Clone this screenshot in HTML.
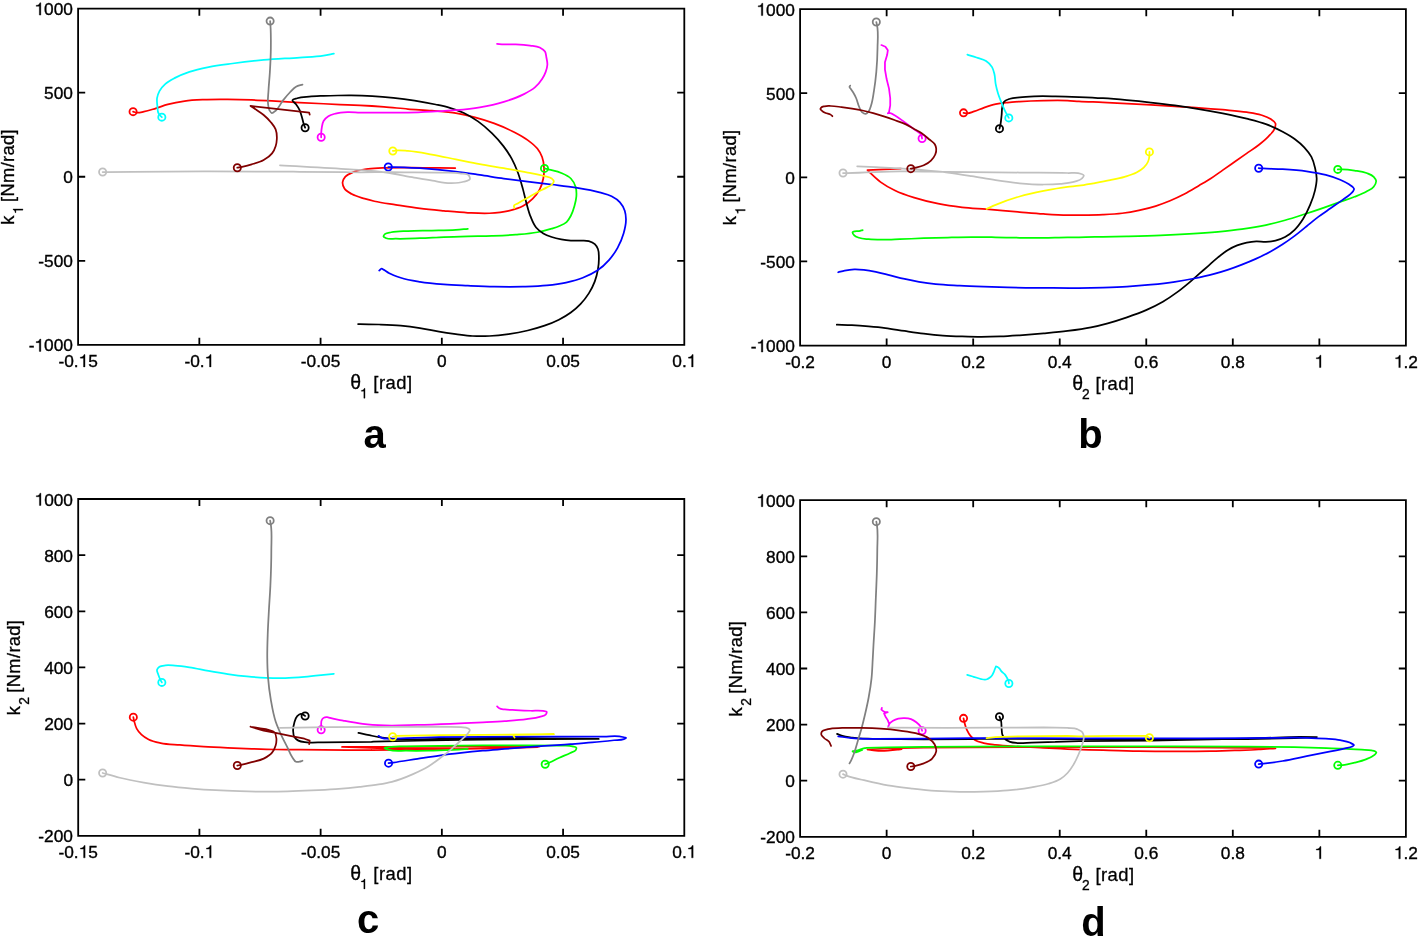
<!DOCTYPE html>
<html><head><meta charset="utf-8"><title>Figure</title>
<style>
html,body{margin:0;padding:0;background:#fff;}
body{width:1419px;height:945px;overflow:hidden;font-family:"Liberation Sans",sans-serif;}
svg{display:block;will-change:transform;}
</style></head><body>
<svg width="1419" height="945" viewBox="0 0 1419 945">
<rect width="1419" height="945" fill="#fff"/>
<g id="panel-a">
<g fill="none" stroke-width="1.75" stroke-linecap="round" stroke-linejoin="round">
<path stroke="#ff0000" d="M133.08 111.66 C134.28 111.98 135.47 112.46 136.67 112.61 C139.03 112.92 141.49 112.1 143.86 111.66 C147.93 110.9 151.87 109.49 155.84 108.3 C159.86 107.1 163.78 105.55 167.82 104.47 C173.32 102.99 178.96 101.91 184.59 101.11 C190.93 100.22 197.37 99.97 203.76 99.68 C211.74 99.31 219.74 99.4 227.72 99.44 C235.71 99.48 243.7 99.64 251.68 99.92 C259.68 100.19 267.66 100.67 275.64 101.11 C283.63 101.55 291.62 102.11 299.61 102.55 C307.59 102.99 315.58 103.35 323.57 103.75 C331.55 104.15 339.54 104.61 347.53 104.95 C351.68 105.12 355.84 105.24 360 105.43 C367.99 105.79 375.98 106.27 383.96 106.86 C391.96 107.46 399.93 108.38 407.92 109.02 C415.9 109.66 423.9 110.02 431.88 110.7 C439.88 111.38 447.94 111.76 455.84 113.09 C462.29 114.18 468.69 115.71 475.01 117.41 C481.47 119.14 487.92 121.06 494.18 123.4 C500.7 125.83 507.16 128.59 513.35 131.78 C518.27 134.33 523.28 136.89 527.72 140.17 C531.12 142.68 534.73 145.25 537.31 148.56 C539.26 151.06 540.99 153.97 542.1 156.94 C543.36 160.31 543.82 164.11 544.02 167.72 C544.21 171.29 543.98 175 543.3 178.51 C542.59 182.2 541.43 185.97 539.7 189.29 C537.89 192.79 535.31 196.08 532.52 198.87 C529.72 201.67 526.39 204.16 522.93 206.06 C518.56 208.46 513.44 209.68 508.56 210.85 C502.32 212.34 495.8 212.9 489.39 213.25 C482.23 213.64 475 213.12 467.82 212.77 C459.82 212.37 451.84 211.57 443.86 210.85 C435.87 210.13 427.86 209.45 419.9 208.46 C411.89 207.46 403.92 206.13 395.94 204.86 C388.74 203.72 381.46 202.94 374.38 201.27 C371.09 200.49 367.82 199.62 364.59 198.63 C360.26 197.3 355.66 196.29 351.77 194.05 C349.15 192.54 345.95 191.03 344.44 188.56 C343.34 186.76 342.38 184.2 342.61 182.14 C342.81 180.24 344.09 178.15 345.36 176.65 C347.29 174.34 350.73 173.25 353.6 172.06 C358.17 170.17 363.33 169.66 368.26 168.95 C374.3 168.09 380.47 168.09 386.58 167.85 C398.78 167.36 411.01 167.81 423.23 167.85 C433.92 167.88 444.6 167.97 455.29 168.03"/>
<circle stroke="#ff0000" cx="133.08" cy="111.66" r="3.6" stroke-width="1.8"/>
<path stroke="#00ff00" d="M544.5 168.44 C546.09 168.84 547.69 169.23 549.29 169.64 C553.3 170.68 557.49 171.37 561.27 173 C564.63 174.44 568.39 175.94 570.85 178.51 C573.01 180.75 574.73 183.89 575.64 186.89 C576.56 189.88 576.56 193.31 576.36 196.48 C576.16 199.64 575.31 202.82 574.45 205.89 C573.51 209.24 572.47 212.65 570.85 215.72 C569.65 217.99 568.38 220.47 566.54 222.18 C564.49 224.1 561.53 225.14 558.87 226.26 C556.55 227.24 554.1 227.92 551.68 228.65 C546.96 230.09 542.15 231.31 537.31 232.25 C530.22 233.61 522.95 234.05 515.74 234.64 C507.78 235.3 499.77 235.56 491.78 235.84 C483.8 236.12 475.81 236.12 467.82 236.32 C459.83 236.52 451.85 236.72 443.86 237.04 C435.87 237.36 427.89 237.96 419.9 238.24 C411.92 238.52 403.92 238.96 395.94 238.72 C392.75 238.62 389.16 239.59 386.36 238.24 C385.35 237.75 383.56 237.13 383.48 236.32 C383.41 235.64 384.48 234.55 385.16 233.93 C386.61 232.59 389.13 232.7 391.15 232.25 C396.6 231.04 402.32 231.33 407.92 231.05 C415.9 230.65 423.9 230.77 431.88 230.57 C439.87 230.37 447.87 230.36 455.84 229.85 C459.84 229.6 463.83 229.21 467.82 228.89"/>
<circle stroke="#00ff00" cx="544.5" cy="168.44" r="3.6" stroke-width="1.8"/>
<path stroke="#000000" d="M305.12 127.71 C304.72 126.67 304.28 125.64 303.92 124.59 C303.11 122.26 302.71 119.78 302 117.41 C301.28 114.99 300.66 112.49 299.61 110.22 C298.63 108.12 297.4 106.08 296.01 104.23 C294.93 102.79 292.14 101.16 292.42 100.16 C292.68 99.2 295.58 98.76 297.21 98.24 C301.03 97.02 305.18 96.96 309.19 96.56 C313.96 96.09 318.77 96.02 323.57 95.84 C328.34 95.67 333.12 95.57 337.9 95.5 C342.3 95.43 346.7 95.36 351.1 95.4 C358.17 95.46 365.24 95.68 372.3 96.1 C379.34 96.52 386.38 97.14 393.4 97.9 C400.48 98.67 407.56 99.6 414.6 100.7 C421.66 101.8 428.71 103.02 435.7 104.5 C440.42 105.5 445.18 106.42 449.8 107.8 C454.59 109.23 459.39 110.87 463.9 113 C468.83 115.33 473.55 118.25 478 121.4 C483.02 124.95 487.71 129.08 492.1 133.4 C496.13 137.36 499.97 141.61 503.4 146.1 C506.47 150.12 509.38 154.36 511.8 158.8 C514.02 162.86 515.83 167.18 517.5 171.5 C519.71 177.22 521.3 183.2 522.93 189.12 C524.24 193.88 525.19 198.74 526.53 203.5 C527.77 207.92 528.85 212.44 530.6 216.67 C532.13 220.39 533.56 224.43 536.11 227.46 C538.08 229.79 540.66 231.84 543.3 233.45 C545.87 235.01 548.81 236.06 551.68 237.04 C554.79 238.1 558.04 238.83 561.27 239.44 C564.43 240.02 567.65 240.44 570.85 240.63 C574.04 240.83 577.24 240.54 580.44 240.63 C583.23 240.72 586.2 240.33 588.82 241.11 C590.93 241.75 593.23 242.73 594.81 244.23 C596.15 245.5 597.22 247.3 597.93 249.02 C598.97 251.56 598.79 254.61 598.89 257.41 C599.02 261.39 598.59 265.45 597.93 269.39 C597.25 273.44 596.24 277.52 594.81 281.37 C593.27 285.53 591.19 289.59 588.82 293.35 C586.41 297.18 583.56 300.84 580.44 304.13 C577.53 307.19 574.26 310.01 570.85 312.52 C567.11 315.26 563.01 317.59 558.87 319.7 C554.26 322.06 549.38 323.97 544.5 325.69 C539.02 327.63 533.37 329.14 527.72 330.49 C521.41 331.99 514.98 333.16 508.56 334.08 C502.2 334.99 495.79 335.7 489.39 336 C483.81 336.26 478.19 336.31 472.61 336 C467.01 335.68 461.42 334.8 455.84 334.08 C450.24 333.36 444.64 332.6 439.07 331.68 C432.66 330.64 426.32 329.09 419.9 328.09 C413.54 327.1 407.14 326.28 400.73 325.69 C393.57 325.03 386.36 324.78 379.17 324.5 C372.78 324.24 366.39 324.03 360 324.02 C359.36 324.02 358.72 324.02 358.08 324.02"/>
<circle stroke="#000000" cx="305.12" cy="127.71" r="3.6" stroke-width="1.8"/>
<path stroke="#0000ff" d="M388.27 167 C389.63 167 390.99 167 392.35 167 C401.54 167.06 410.73 167.61 419.9 168.2 C431.9 168.98 443.9 170.11 455.84 171.56 C463.85 172.53 471.82 173.75 479.8 174.91 C487.8 176.07 495.77 177.39 503.76 178.51 C511.74 179.62 519.73 180.62 527.72 181.62 C535.71 182.62 543.7 183.5 551.68 184.5 C559.68 185.5 567.7 186.3 575.64 187.61 C583.68 188.93 591.78 190.19 599.61 192.4 C603.64 193.54 607.91 194.38 611.59 196.31 C614.59 197.88 617.74 199.79 619.97 202.3 C622.06 204.65 623.77 207.68 624.76 210.68 C625.63 213.32 625.88 216.28 625.96 219.07 C626.1 223.87 624.88 228.8 623.57 233.45 C622.16 238.41 620.08 243.31 617.58 247.82 C615.23 252.06 612.38 256.16 609.19 259.8 C605.67 263.82 601.61 267.59 597.21 270.58 C592.82 273.57 587.8 275.82 582.83 277.77 C577.45 279.89 571.73 281.32 566.06 282.57 C559.76 283.95 553.31 284.77 546.89 285.44 C538.95 286.28 530.92 286.42 522.93 286.64 C513.35 286.9 503.76 286.82 494.18 286.64 C485.39 286.47 476.61 286.06 467.82 285.68 C459.83 285.33 451.83 285.12 443.86 284.48 C435.86 283.84 427.82 283.16 419.9 281.85 C413.47 280.78 406.93 279.77 400.73 277.77 C396.65 276.45 392.48 275.1 388.75 272.98 C387.1 272.04 385.63 270.78 383.96 269.87 C383.18 269.44 382.32 268.62 381.56 268.67 C380.7 268.72 379.97 269.95 379.17 270.58"/>
<circle stroke="#0000ff" cx="388.27" cy="167" r="3.6" stroke-width="1.8"/>
<path stroke="#00ffff" d="M161.83 117.17 C160.79 116.05 159.48 115.07 158.72 113.81 C157.29 111.48 157.55 108.24 157.28 105.43 C157.05 103.05 156.71 100.57 157.04 98.24 C157.39 95.78 158.27 93.24 159.44 91.05 C160.87 88.34 163.14 85.92 165.43 83.86 C168.19 81.37 171.7 79.64 175.01 77.87 C179.58 75.44 184.49 73.55 189.39 71.88 C195.6 69.76 202.11 68.41 208.56 67.09 C216.46 65.47 224.51 64.57 232.52 63.5 C242.87 62.1 253.26 60.87 263.66 59.9 C275.62 58.79 287.63 58.4 299.61 57.51 C307.6 56.91 315.66 56.8 323.57 55.59 C327.01 55.06 330.43 54.31 333.87 53.67"/>
<circle stroke="#00ffff" cx="161.83" cy="117.17" r="3.6" stroke-width="1.8"/>
<path stroke="#ff00ff" d="M321.17 137.29 C321.17 136.1 321.13 134.9 321.17 133.7 C321.25 131.46 321.46 129.19 321.89 126.99 C322.29 124.96 322.57 122.74 323.57 121 C324.65 119.1 326.51 117.42 328.36 116.21 C330.44 114.84 333.1 114.23 335.55 113.57 C339.41 112.54 343.52 112.3 347.53 112.14 C351.67 111.96 355.84 112.51 360 112.61 C367.98 112.82 375.97 112.61 383.96 112.61 C391.95 112.61 399.94 112.77 407.92 112.61 C415.91 112.45 423.9 112.06 431.88 111.66 C439.87 111.26 447.88 110.93 455.84 110.22 C463.85 109.5 471.89 108.72 479.8 107.34 C487.87 105.94 495.95 104.24 503.76 101.83 C510.27 99.83 516.86 97.7 522.93 94.64 C527.07 92.56 531.46 90.49 534.91 87.46 C537.64 85.06 540.14 82.15 542.1 79.07 C543.53 76.83 544.8 74.39 545.69 71.88 C546.51 69.58 547.26 67.11 547.37 64.69 C547.48 62.32 546.86 59.88 546.41 57.51 C546.03 55.49 546 53.16 544.98 51.52 C543.86 49.74 541.63 48.43 539.7 47.44 C536.88 46 533.34 46.02 530.12 45.53 C525.37 44.8 520.54 44.51 515.74 44.33 C511.76 44.18 507.75 44.51 503.76 44.33 C501.52 44.22 499.29 44.01 497.05 43.85"/>
<circle stroke="#ff00ff" cx="321.17" cy="137.29" r="3.6" stroke-width="1.8"/>
<path stroke="#ffff00" d="M392.83 150.95 C394.02 150.79 395.22 150.58 396.42 150.47 C400.23 150.12 404.1 150.66 407.92 150.95 C415.96 151.57 423.93 153.16 431.88 154.55 C439.9 155.95 447.86 157.74 455.84 159.34 C463.83 160.93 471.79 162.65 479.8 164.13 C487.77 165.6 495.78 166.81 503.76 168.2 C511.76 169.6 519.77 170.92 527.72 172.52 C533.33 173.64 539.02 174.49 544.5 176.11 C546.91 176.83 549.84 176.91 551.68 178.51 C552.51 179.22 553.74 180.2 553.84 181.14 C553.95 182.12 552.89 183.38 552.16 184.26 C550.91 185.78 548.67 186.38 546.89 187.37 C543.77 189.11 540.45 190.48 537.31 192.16 C534.06 193.9 530.92 195.84 527.72 197.67 C524.53 199.51 521.25 201.21 518.14 203.19 C516.68 204.11 513.8 204.63 513.83 206.06 C513.84 206.63 514.31 207.34 514.55 207.98"/>
<circle stroke="#ffff00" cx="392.83" cy="150.95" r="3.6" stroke-width="1.8"/>
<path stroke="#808080" d="M270.13 21.09 C270.21 22.04 270.3 23 270.37 23.96 C270.98 31.92 270.93 39.94 270.85 47.92 C270.77 55.91 270.37 63.9 269.89 71.88 C269.51 78.28 268.8 84.65 268.46 91.05 C268.24 95.04 267.55 99.08 267.98 103.03 C268.24 105.44 268.22 108.17 269.42 110.22 C270.03 111.27 270.9 112.87 271.81 113.09 C272.92 113.37 274.47 111.61 275.64 110.7 C278.85 108.2 280.29 103.87 282.83 100.63 C285.11 97.74 287.44 94.87 290.02 92.25 C291.92 90.32 293.7 88.04 296.01 86.74 C297.95 85.64 300.32 85.3 302.48 84.58"/>
<circle stroke="#808080" cx="270.13" cy="21.09" r="3.6" stroke-width="1.8"/>
<path stroke="#c0c0c0" d="M102.65 172.04 C104.01 172.04 105.37 172.04 106.72 172.04 C139.07 172.03 171.42 171.36 203.76 171.32 C235.71 171.28 267.66 171.55 299.61 171.8 C316.38 171.92 333.16 172.17 349.94 172.25 C368.26 172.33 386.58 172.14 404.9 172.25 C417.12 172.32 429.34 172.25 441.55 172.61 C447.66 172.8 453.89 172.25 459.87 173.35 C462.96 173.91 467.59 173.27 469.03 175.73 C469.53 176.57 470.05 177.99 469.95 178.84 C469.73 180.7 465.75 181.06 463.54 181.78 C459.5 183.08 454.98 183.03 450.71 183.06 C444.59 183.09 438.48 181.59 432.39 180.68 C426.26 179.76 420.17 178.62 414.07 177.56 C404.9 175.97 395.79 173.91 386.58 172.61 C374.45 170.9 362.16 170.28 349.94 169.32 C326.64 167.48 303.27 166.63 279.94 165.29"/>
<circle stroke="#c0c0c0" cx="102.65" cy="172.04" r="3.6" stroke-width="1.8"/>
<path stroke="#800000" d="M237.31 167.72 C238.91 167.4 240.51 167.11 242.1 166.77 C245.32 166.07 248.53 165.31 251.68 164.37 C255.75 163.16 260.04 162.15 263.66 160.06 C266.72 158.29 269.94 156.14 272.05 153.35 C273.63 151.26 274.84 148.68 275.64 146.16 C276.37 143.87 276.74 141.37 276.84 138.97 C276.97 135.79 276.78 132.31 275.64 129.39 C274.63 126.77 272.65 124.43 270.85 122.2 C268.74 119.57 266.24 117.2 263.66 115.01 C260.7 112.5 257.31 110.48 254.08 108.3 C252.89 107.5 251.68 106.7 250.49 105.91 M250.49 105.91 L309.19 112.61 L309.67 114.53"/>
<circle stroke="#800000" cx="237.31" cy="167.72" r="3.6" stroke-width="1.8"/>
</g>
<path d="M78.1 8.6 H684.3 V344.9 H78.1 Z M199.34 344.9 v-7.1 M199.34 8.6 v7.1 M320.58 344.9 v-7.1 M320.58 8.6 v7.1 M441.82 344.9 v-7.1 M441.82 8.6 v7.1 M563.06 344.9 v-7.1 M563.06 8.6 v7.1 M78.1 92.67 h7.1 M684.3 92.67 h-7.1 M78.1 176.75 h7.1 M684.3 176.75 h-7.1 M78.1 260.82 h7.1 M684.3 260.82 h-7.1" fill="none" stroke="#000" stroke-width="1.8" stroke-linejoin="miter"/>
<g stroke="#000" stroke-width="0.35">
<text x="58.38" y="366.9" font-size="17.3" font-family="'Liberation Sans', sans-serif">-0.</text><path d="M85.01 366.9L83.49 366.9L83.49 358.16L80.34 358.16L80.34 357.11C81.86 357 83.62 356.69 84.04 354.58L85.01 354.58Z"/><text x="88.19" y="366.9" font-size="17.3" font-family="'Liberation Sans', sans-serif">5</text>
<text x="184.43" y="366.9" font-size="17.3" font-family="'Liberation Sans', sans-serif">-0.</text><path d="M211.06 366.9L209.54 366.9L209.54 358.16L206.39 358.16L206.39 357.11C207.91 357 209.68 356.69 210.09 354.58L211.06 354.58Z"/>
<text x="300.86" y="366.9" font-size="17.3" font-family="'Liberation Sans', sans-serif">-0.05</text>
<text x="437.01" y="366.9" font-size="17.3" font-family="'Liberation Sans', sans-serif">0</text>
<text x="546.22" y="366.9" font-size="17.3" font-family="'Liberation Sans', sans-serif">0.05</text>
<text x="672.27" y="366.9" font-size="17.3" font-family="'Liberation Sans', sans-serif">0.</text><path d="M693.14 366.9L691.62 366.9L691.62 358.16L688.47 358.16L688.47 357.11C689.99 357 691.75 356.69 692.17 354.58L693.14 354.58Z"/>
<path d="M40.85 15.1L39.32 15.1L39.32 6.36L36.18 6.36L36.18 5.31C37.7 5.2 39.46 4.89 39.88 2.78L40.85 2.78Z"/><text x="44.03" y="15.1" font-size="17.3" font-family="'Liberation Sans', sans-serif">000</text>
<text x="44.03" y="99.17" font-size="17.3" font-family="'Liberation Sans', sans-serif">500</text>
<text x="63.28" y="183.25" font-size="17.3" font-family="'Liberation Sans', sans-serif">0</text>
<text x="38.27" y="267.32" font-size="17.3" font-family="'Liberation Sans', sans-serif">-500</text>
<text x="28.65" y="351.4" font-size="17.3" font-family="'Liberation Sans', sans-serif">-</text><path d="M40.85 351.4L39.32 351.4L39.32 342.66L36.18 342.66L36.18 341.61C37.7 341.5 39.46 341.19 39.88 339.08L40.85 339.08Z"/><text x="44.03" y="351.4" font-size="17.3" font-family="'Liberation Sans', sans-serif">000</text>
</g>
<g stroke="#000" stroke-width="0.3"><text x="350.2" y="389.2" font-size="19.5" font-family="'Liberation Sans', sans-serif" >&#952;</text><path d="M365.03 398.2L363.82 398.2L363.82 391.23L361.31 391.23L361.31 390.39C362.52 390.31 363.93 390.06 364.26 388.37L365.03 388.37Z"/><text x="373.3" y="389.2" font-size="18.4" font-family="'Liberation Sans', sans-serif" letter-spacing="0.5">[rad]</text></g>
<g transform="translate(13.9 224.65) rotate(-90)" stroke="#000" stroke-width="0.3"><text x="0" y="0" font-size="18.4" font-family="'Liberation Sans', sans-serif" >k</text><path d="M15.73 9L14.52 9L14.52 2.03L12.01 2.03L12.01 1.19C13.22 1.11 14.63 0.86 14.96 -0.83L15.73 -0.83Z"/><text x="22.7" y="0" font-size="18.4" font-family="'Liberation Sans', sans-serif" letter-spacing="0.3">[Nm/rad]</text></g>
<text x="363.6" y="447.6" font-family="'Liberation Sans', sans-serif" font-weight="bold" font-size="40" fill="#000">a</text>
</g>
<g id="panel-b">
<g fill="none" stroke-width="1.75" stroke-linecap="round" stroke-linejoin="round">
<path stroke="#ff0000" d="M963.54 112.85 C964.82 113.01 966.11 113.36 967.37 113.33 C969.65 113.29 971.87 112.13 974.08 111.42 C977.33 110.37 980.44 108.92 983.66 107.82 C987.61 106.48 991.58 105.11 995.64 104.23 C999.57 103.37 1003.62 102.99 1007.63 102.55 C1011.61 102.11 1015.61 101.86 1019.61 101.59 C1027.58 101.06 1035.58 100.79 1043.57 100.63 C1051.55 100.47 1059.55 100.3 1067.53 100.63 C1071.35 100.8 1075.17 101.14 1079 101.35 C1086.98 101.79 1094.98 101.95 1102.96 102.31 C1110.95 102.67 1118.94 103.07 1126.92 103.51 C1134.91 103.95 1142.89 104.47 1150.88 104.95 C1158.87 105.43 1166.86 105.91 1174.84 106.38 C1182.83 106.86 1190.82 107.26 1198.8 107.82 C1206.8 108.38 1214.78 109.02 1222.76 109.74 C1230.76 110.46 1238.81 110.85 1246.72 112.14 C1251.54 112.92 1256.48 113.49 1261.1 115.01 C1264.38 116.09 1267.87 117.13 1270.68 119.08 C1272.43 120.29 1274.92 121.62 1275.48 123.4 C1276.01 125.08 1275.03 127.56 1274.28 129.39 C1273.12 132.18 1270.43 134.32 1268.29 136.58 C1265.37 139.64 1262.03 142.33 1258.7 144.96 C1254.88 147.98 1250.72 150.55 1246.72 153.35 C1242.73 156.14 1238.74 158.94 1234.74 161.73 C1230.75 164.53 1226.76 167.32 1222.76 170.12 C1218.77 172.92 1214.87 175.86 1210.78 178.51 C1206.88 181.04 1202.81 183.32 1198.8 185.69 C1194.03 188.52 1189.34 191.51 1184.43 194.08 C1179.74 196.53 1174.93 198.76 1170.05 200.79 C1165.34 202.74 1160.54 204.53 1155.67 206.06 C1150.17 207.79 1144.54 209.17 1138.9 210.37 C1133.36 211.56 1127.75 212.54 1122.13 213.25 C1115.78 214.05 1109.36 214.36 1102.96 214.69 C1094.99 215.09 1086.99 215.11 1079 215.17 C1075.18 215.19 1071.35 215.23 1067.53 215.17 C1059.53 215.04 1051.54 214.49 1043.57 213.97 C1035.57 213.45 1027.59 212.71 1019.61 212.05 C1008.42 211.13 997.25 210.1 986.06 209.18 C978.08 208.52 970.06 208.17 962.1 207.26 C954.08 206.34 946.05 205.24 938.14 203.66 C930.07 202.06 922.01 200.16 914.18 197.67 C907.68 195.61 901.13 193.46 895.01 190.49 C890.04 188.07 885.08 185.38 880.63 182.1 C877.23 179.59 874.11 176.66 871.05 173.71 C869.83 172.54 868.65 171.32 867.46 170.12 M867.46 170.12 L901 168.56"/>
<circle stroke="#ff0000" cx="963.54" cy="112.85" r="3.6" stroke-width="1.8"/>
<path stroke="#00ff00" d="M1337.77 169.4 C1339.21 169.4 1340.65 169.37 1342.09 169.4 C1346.25 169.5 1350.42 169.99 1354.55 170.6 C1358.57 171.2 1362.77 171.53 1366.53 173 C1369.03 173.97 1371.96 174.88 1373.71 176.83 C1374.73 177.96 1375.91 179.5 1376.11 180.9 C1376.38 182.77 1374.91 185.11 1373.71 186.72 C1372.07 188.94 1369.02 190.09 1366.53 191.52 C1362.75 193.67 1358.6 195.18 1354.55 196.79 C1349.83 198.66 1344.96 200.13 1340.17 201.82 C1334.57 203.8 1329 205.86 1323.4 207.81 C1317.03 210.02 1310.64 212.19 1304.23 214.28 C1297.86 216.35 1291.5 218.46 1285.06 220.27 C1278.72 222.05 1272.33 223.68 1265.89 225.06 C1257.98 226.75 1249.95 228.01 1241.93 229.13 C1233.98 230.24 1225.97 231.02 1217.97 231.77 C1208.4 232.67 1198.81 233.33 1189.22 233.93 C1179.64 234.52 1170.05 234.98 1160.47 235.36 C1149.29 235.81 1138.1 236.06 1126.92 236.32 C1118.93 236.51 1110.95 236.64 1102.96 236.8 C1094.97 236.96 1086.99 237.23 1079 237.28 C1075.18 237.3 1071.35 237.26 1067.53 237.28 C1059.54 237.33 1051.55 237.68 1043.57 237.76 C1035.58 237.84 1027.59 237.84 1019.61 237.76 C1011.62 237.68 1003.63 237.4 995.64 237.28 C987.66 237.16 979.67 237 971.68 237.04 C963.7 237.08 955.71 237.32 947.72 237.52 C939.74 237.72 931.75 237.96 923.76 238.24 C915.77 238.52 907.79 238.93 899.8 239.2 C894.21 239.38 888.62 239.7 883.03 239.68 C878.24 239.65 873.42 239.69 868.65 239.2 C865.45 238.87 862.07 238.86 859.07 237.76 C857.41 237.15 855.42 236.63 854.28 235.36 C853.52 234.53 852.18 232.95 852.6 232.25 C852.88 231.78 854.01 231.51 854.76 231.29 C856.12 230.88 857.66 231.29 859.07 231.05 C860.29 230.85 861.47 230.41 862.66 230.09"/>
<circle stroke="#00ff00" cx="1337.77" cy="169.4" r="3.6" stroke-width="1.8"/>
<path stroke="#000000" d="M999.48 128.67 C999.8 127.31 1000.16 125.96 1000.44 124.59 C1001.07 121.44 1001.3 118.21 1001.63 115.01 C1001.93 112.22 1001.69 109.33 1002.35 106.62 C1002.76 104.99 1003.07 103.08 1004.03 101.83 C1005.31 100.17 1007.93 99.47 1010.02 98.72 C1013.02 97.64 1016.4 97.65 1019.61 97.28 C1024.37 96.73 1029.19 96.51 1033.98 96.32 C1041.16 96.03 1048.36 96.22 1055.55 96.32 C1063.37 96.44 1071.19 96.73 1079 97.04 C1086.99 97.36 1094.98 97.72 1102.96 98.24 C1110.96 98.76 1118.94 99.44 1126.92 100.16 C1134.92 100.87 1142.9 101.67 1150.88 102.55 C1158.88 103.43 1166.87 104.35 1174.84 105.43 C1182.84 106.51 1190.83 107.71 1198.8 109.02 C1206.81 110.34 1214.81 111.74 1222.76 113.33 C1230.78 114.94 1238.81 116.57 1246.72 118.6 C1253.16 120.26 1259.68 121.8 1265.89 124.12 C1271.64 126.26 1277.26 128.88 1282.66 131.78 C1286.76 133.98 1290.91 136.22 1294.64 138.97 C1298.05 141.47 1301.37 144.25 1304.23 147.36 C1306.92 150.28 1309.6 153.44 1311.42 156.94 C1313.14 160.26 1314.13 164.05 1315.01 167.72 C1315.86 171.25 1316.64 174.91 1316.69 178.51 C1316.74 182.44 1315.88 186.45 1315.01 190.32 C1313.91 195.23 1312.14 200.03 1310.22 204.69 C1308.18 209.64 1305.91 214.58 1303.03 219.07 C1300.58 222.88 1297.89 226.72 1294.64 229.85 C1291.8 232.6 1288.55 235.18 1285.06 237.04 C1282.08 238.63 1278.77 239.83 1275.48 240.63 C1272.37 241.39 1269.1 241.71 1265.89 241.83 C1262.71 241.95 1259.49 241.24 1256.31 241.35 C1253.1 241.47 1249.86 241.89 1246.72 242.55 C1243.47 243.23 1240.23 244.21 1237.14 245.43 C1233.83 246.73 1230.59 248.36 1227.56 250.22 C1224.16 252.29 1221.07 254.9 1217.97 257.41 C1214.67 260.07 1211.58 263 1208.39 265.79 C1205.19 268.59 1202 271.38 1198.8 274.18 C1195.61 276.97 1192.47 279.83 1189.22 282.57 C1185.3 285.85 1181.35 289.12 1177.24 292.15 C1172.6 295.56 1167.83 298.84 1162.86 301.73 C1157.47 304.88 1151.81 307.61 1146.09 310.12 C1139.85 312.86 1133.37 315.09 1126.92 317.31 C1120.59 319.48 1114.2 321.53 1107.75 323.3 C1102.21 324.82 1096.61 326.22 1090.98 327.37 C1083.24 328.96 1075.37 329.97 1067.53 330.97 C1059.57 331.97 1051.56 332.64 1043.57 333.36 C1035.59 334.08 1027.6 334.72 1019.61 335.28 C1013.22 335.73 1006.83 336.2 1000.44 336.48 C994.05 336.76 987.66 336.96 981.27 336.96 C974.88 336.96 968.49 336.72 962.1 336.48 C955.71 336.24 949.31 336 942.93 335.52 C936.53 335.04 930.14 334.36 923.76 333.6 C917.36 332.84 910.98 331.88 904.59 330.97 C898.2 330.05 891.84 328.88 885.43 328.09 C879.85 327.4 874.25 326.89 868.65 326.41 C863.07 325.93 857.48 325.5 851.88 325.21 C846.85 324.96 841.82 324.9 836.79 324.74"/>
<circle stroke="#000000" cx="999.48" cy="128.67" r="3.6" stroke-width="1.8"/>
<path stroke="#0000ff" d="M1258.7 168.2 C1260.14 168.28 1261.58 168.37 1263.02 168.44 C1269.56 168.78 1276.13 168.77 1282.66 169.16 C1290.67 169.65 1298.7 170.18 1306.63 171.32 C1313.05 172.24 1319.53 173.23 1325.79 174.91 C1330.66 176.22 1335.56 177.67 1340.17 179.7 C1343.04 180.97 1345.91 182.33 1348.56 184.02 C1349.96 184.91 1351.53 185.67 1352.63 186.89 C1353.17 187.49 1353.97 188.17 1354.07 188.88 C1354.17 189.63 1353.53 190.54 1353.11 191.28 C1352.33 192.62 1350.93 193.58 1349.75 194.63 C1347.55 196.61 1344.98 198.16 1342.57 199.9 C1338.61 202.75 1334.58 205.49 1330.59 208.29 C1326.59 211.08 1322.51 213.76 1318.61 216.67 C1314.51 219.73 1310.62 223.06 1306.63 226.26 C1302.63 229.45 1298.74 232.78 1294.64 235.84 C1290.74 238.76 1286.75 241.58 1282.66 244.23 C1278.76 246.76 1274.76 249.17 1270.68 251.42 C1266 254.01 1261.18 256.38 1256.31 258.6 C1251.59 260.76 1246.77 262.7 1241.93 264.59 C1237.18 266.45 1232.4 268.26 1227.56 269.87 C1222.81 271.44 1218.01 272.89 1213.18 274.18 C1206.86 275.87 1200.43 277.21 1194.01 278.49 C1187.65 279.76 1181.25 280.88 1174.84 281.85 C1166.89 283.04 1158.88 283.92 1150.88 284.72 C1142.91 285.52 1134.92 286.16 1126.92 286.64 C1118.94 287.12 1110.95 287.36 1102.96 287.6 C1094.98 287.84 1086.99 288 1079 288.08 C1067.19 288.18 1055.38 287.95 1043.57 287.84 C1031.59 287.72 1019.6 287.64 1007.63 287.36 C999.64 287.17 991.65 286.92 983.66 286.64 C975.68 286.36 967.69 286.08 959.7 285.68 C951.71 285.28 943.69 285.1 935.74 284.24 C930.13 283.63 924.53 282.81 918.97 281.85 C914.16 281.01 909.36 280.04 904.59 278.97 C899.78 277.89 895.01 276.58 890.22 275.38 C885.43 274.18 880.68 272.75 875.84 271.78 C871.88 270.99 867.88 270.26 863.86 269.87 C860.68 269.55 857.46 269.27 854.28 269.39 C851.07 269.51 847.84 269.94 844.69 270.58 C842.51 271.03 840.38 271.7 838.22 272.26"/>
<circle stroke="#0000ff" cx="1258.7" cy="168.2" r="3.6" stroke-width="1.8"/>
<path stroke="#00ffff" d="M1008.82 117.89 C1007.63 115.73 1006.33 113.62 1005.23 111.42 C1003.88 108.7 1002.77 105.85 1001.63 103.03 C1000.36 99.87 999.05 96.7 998.04 93.45 C997.07 90.31 996.25 87.09 995.64 83.86 C995.06 80.7 995.19 77.39 994.45 74.28 C993.86 71.83 993.32 69.2 992.05 67.09 C990.64 64.73 988.35 62.64 986.06 61.1 C983.29 59.24 979.7 58.62 976.48 57.51 C973.47 56.47 970.41 55.59 967.37 54.63"/>
<circle stroke="#00ffff" cx="1008.82" cy="117.89" r="3.6" stroke-width="1.8"/>
<path stroke="#ff00ff" d="M922.09 138.49 C921.85 137.45 921.75 136.32 921.37 135.38 C920.23 132.6 916.62 131.33 914.18 129.39 C911.06 126.9 907.83 124.54 904.59 122.2 C901.44 119.91 898.41 117.39 895.01 115.49 C893.46 114.62 891.94 113.22 890.22 113.09 C889.44 113.04 888.62 113.25 887.82 113.33 M887.82 113.33 L889.02 112.14 L890.22 105.43 L890.22 98.24 L889.02 88.65 L886.62 79.07 L884.95 69.49 L884.95 62.3 L887.1 55.11 L887.82 50.32 L885.43 46.72 L881.35 45.05"/>
<circle stroke="#ff00ff" cx="922.09" cy="138.49" r="3.6" stroke-width="1.8"/>
<path stroke="#ffff00" d="M1149.44 151.91 C1149.44 153.19 1149.56 154.48 1149.44 155.74 C1149.26 157.78 1148.81 159.89 1148.01 161.73 C1147.04 163.95 1145.41 166.02 1143.69 167.72 C1141.68 169.72 1139.03 171.17 1136.51 172.52 C1132.79 174.5 1128.58 175.61 1124.53 176.83 C1119.82 178.24 1114.96 179.17 1110.15 180.18 C1104.59 181.36 1098.98 182.32 1093.38 183.3 C1088.59 184.14 1083.81 185.06 1079 185.69 C1075.19 186.2 1071.34 186.41 1067.53 186.89 C1059.49 187.9 1051.51 189.38 1043.57 190.97 C1035.53 192.57 1027.47 194.21 1019.61 196.48 C1011.49 198.82 1003.44 201.59 995.64 204.86 C992.58 206.15 989.57 207.58 986.54 208.94"/>
<circle stroke="#ffff00" cx="1149.44" cy="151.91" r="3.6" stroke-width="1.8"/>
<path stroke="#808080" d="M876.32 22.04 C876.56 23.08 876.83 24.12 877.04 25.16 C878.56 32.58 877.62 40.34 877.52 47.92 C877.41 55.91 877.05 63.92 876.32 71.88 C875.74 78.29 874.99 84.7 873.93 91.05 C873.12 95.87 872.6 100.81 871.05 105.43 C870.37 107.46 869.99 109.81 868.65 111.42 C867.88 112.35 866.82 113.63 865.78 113.81 C864.61 114.02 862.97 112.97 861.95 112.14 C860.42 110.9 859.91 108.51 859.07 106.62 C857.87 103.93 857.38 100.94 856.19 98.24 C855.29 96.18 854.25 94.17 853.08 92.25 C852.33 91.02 851.51 89.83 850.68 88.65 C850.29 88.09 849.49 87.57 849.49 86.98 C849.48 86.52 849.96 86.02 850.2 85.54"/>
<circle stroke="#808080" cx="876.32" cy="22.04" r="3.6" stroke-width="1.8"/>
<path stroke="#c0c0c0" d="M843.02 173 C844.37 173 845.73 173 847.09 173 C864.67 172.95 882.23 171.49 899.8 171.32 C915.77 171.16 931.75 171.64 947.72 171.8 C971.68 172.04 995.64 172.28 1019.61 172.52 C1035.58 172.68 1051.57 172.28 1067.53 173 C1071.92 173.19 1076.72 172.02 1080.7 173.71 C1081.77 174.17 1083.6 174.61 1083.82 175.39 C1084.05 176.2 1082.69 177.64 1081.9 178.51 C1080.21 180.35 1077.18 180.81 1074.71 181.62 C1070.15 183.12 1065.15 183.3 1060.34 183.78 C1054.78 184.33 1049.16 184.47 1043.57 184.5 C1035.58 184.53 1027.56 184.01 1019.61 183.3 C1011.59 182.58 1003.61 181.38 995.64 180.18 C987.63 178.98 979.68 177.39 971.68 176.11 C963.71 174.83 955.74 173.52 947.72 172.52 C939.76 171.52 931.76 170.8 923.76 170.12 C915.79 169.44 907.79 168.92 899.8 168.44 C891.82 167.96 883.83 167.65 875.84 167.24 C869.61 166.93 863.38 166.61 857.15 166.29"/>
<circle stroke="#c0c0c0" cx="843.02" cy="173" r="3.6" stroke-width="1.8"/>
<path stroke="#800000" d="M910.82 168.68 C912.34 168.36 913.87 168.08 915.38 167.72 C918.2 167.06 921.16 166.54 923.76 165.33 C926.34 164.13 928.94 162.53 930.95 160.54 C932.67 158.83 934.4 156.78 935.26 154.55 C935.97 152.71 936.46 150.51 936.22 148.56 C936.05 147.11 935.52 145.56 934.8 144.3 C933.64 142.28 931.23 141.07 929.4 139.5 C926.88 137.34 924.45 135.03 921.7 133.2 C919.42 131.68 916.9 130.54 914.5 129.2 C911.63 127.6 908.86 125.81 905.9 124.4 C902.21 122.64 898.26 121.41 894.4 120 C890.88 118.72 887.36 117.46 883.8 116.3 C880.29 115.16 876.76 114.07 873.2 113.1 C869.69 112.14 866.16 111.26 862.6 110.5 C859.12 109.76 855.61 109.17 852.1 108.6 C848.58 108.03 845.04 107.53 841.5 107.1 C837.97 106.67 834.44 106.03 830.9 106 C828.77 105.98 826.54 105.76 824.5 106.3 C823.37 106.6 821.95 106.76 821.2 107.6 C820.86 107.98 820.42 108.56 820.4 109 C820.38 109.66 821.41 110.27 822 110.8 C823.03 111.74 824.34 112.4 825.6 113 C827.17 113.74 829.18 113.64 830.6 114.6 C831.25 115.04 831.8 115.67 832.4 116.2"/>
<circle stroke="#800000" cx="910.82" cy="168.68" r="3.6" stroke-width="1.8"/>
</g>
<path d="M800.1 9.1 H1405.9 V345.55 H800.1 Z M886.64 345.55 v-7.1 M886.64 9.1 v7.1 M973.19 345.55 v-7.1 M973.19 9.1 v7.1 M1059.73 345.55 v-7.1 M1059.73 9.1 v7.1 M1146.27 345.55 v-7.1 M1146.27 9.1 v7.1 M1232.81 345.55 v-7.1 M1232.81 9.1 v7.1 M1319.36 345.55 v-7.1 M1319.36 9.1 v7.1 M800.1 93.21 h7.1 M1405.9 93.21 h-7.1 M800.1 177.32 h7.1 M1405.9 177.32 h-7.1 M800.1 261.44 h7.1 M1405.9 261.44 h-7.1" fill="none" stroke="#000" stroke-width="1.8" stroke-linejoin="miter"/>
<g stroke="#000" stroke-width="0.35">
<text x="785.19" y="367.55" font-size="17.3" font-family="'Liberation Sans', sans-serif">-0.2</text>
<text x="881.83" y="367.55" font-size="17.3" font-family="'Liberation Sans', sans-serif">0</text>
<text x="961.16" y="367.55" font-size="17.3" font-family="'Liberation Sans', sans-serif">0.2</text>
<text x="1047.7" y="367.55" font-size="17.3" font-family="'Liberation Sans', sans-serif">0.4</text>
<text x="1134.25" y="367.55" font-size="17.3" font-family="'Liberation Sans', sans-serif">0.6</text>
<text x="1220.79" y="367.55" font-size="17.3" font-family="'Liberation Sans', sans-serif">0.8</text>
<path d="M1320.98 367.55L1319.46 367.55L1319.46 358.81L1316.31 358.81L1316.31 357.76C1317.83 357.65 1319.6 357.34 1320.01 355.23L1320.98 355.23Z"/>
<path d="M1400.31 367.55L1398.79 367.55L1398.79 358.81L1395.64 358.81L1395.64 357.76C1397.16 357.65 1398.93 357.34 1399.34 355.23L1400.31 355.23Z"/><text x="1403.5" y="367.55" font-size="17.3" font-family="'Liberation Sans', sans-serif">.2</text>
<path d="M762.85 15.6L761.32 15.6L761.32 6.86L758.18 6.86L758.18 5.81C759.7 5.7 761.46 5.39 761.88 3.28L762.85 3.28Z"/><text x="766.03" y="15.6" font-size="17.3" font-family="'Liberation Sans', sans-serif">000</text>
<text x="766.03" y="99.71" font-size="17.3" font-family="'Liberation Sans', sans-serif">500</text>
<text x="785.28" y="183.82" font-size="17.3" font-family="'Liberation Sans', sans-serif">0</text>
<text x="760.27" y="267.94" font-size="17.3" font-family="'Liberation Sans', sans-serif">-500</text>
<text x="750.65" y="352.05" font-size="17.3" font-family="'Liberation Sans', sans-serif">-</text><path d="M762.85 352.05L761.32 352.05L761.32 343.31L758.18 343.31L758.18 342.26C759.7 342.15 761.46 341.84 761.88 339.73L762.85 339.73Z"/><text x="766.03" y="352.05" font-size="17.3" font-family="'Liberation Sans', sans-serif">000</text>
</g>
<g stroke="#000" stroke-width="0.3"><text x="1072.3" y="389.9" font-size="19.5" font-family="'Liberation Sans', sans-serif" >&#952;</text><text x="1082" y="398.9" font-size="13.8" font-family="'Liberation Sans', sans-serif">2</text><text x="1095.4" y="389.9" font-size="18.4" font-family="'Liberation Sans', sans-serif" letter-spacing="0.5">[rad]</text></g>
<g transform="translate(736.2 225.23) rotate(-90)" stroke="#000" stroke-width="0.3"><text x="0" y="0" font-size="18.4" font-family="'Liberation Sans', sans-serif" >k</text><path d="M15.73 9L14.52 9L14.52 2.03L12.01 2.03L12.01 1.19C13.22 1.11 14.63 0.86 14.96 -0.83L15.73 -0.83Z"/><text x="22.7" y="0" font-size="18.4" font-family="'Liberation Sans', sans-serif" letter-spacing="0.3">[Nm/rad]</text></g>
<text x="1078.2" y="447.8" font-family="'Liberation Sans', sans-serif" font-weight="bold" font-size="40" fill="#000">b</text>
</g>
<g id="panel-c">
<g fill="none" stroke-width="1.75" stroke-linecap="round" stroke-linejoin="round">
<path stroke="#ff0000" d="M133.32 717.15 C133.64 718.59 133.9 720.04 134.28 721.47 C134.92 723.91 135.49 726.47 136.67 728.65 C137.87 730.87 139.62 732.92 141.47 734.64 C143.55 736.59 146.11 738.15 148.65 739.44 C152.34 741.29 156.58 742.14 160.63 743.03 C166.88 744.4 173.41 744.39 179.8 744.95 C187.78 745.64 195.77 746.14 203.76 746.62 C211.75 747.1 219.74 747.46 227.72 747.82 C235.71 748.18 243.7 748.5 251.68 748.78 C259.67 749.06 267.66 749.34 275.64 749.5 C283.63 749.66 291.62 749.66 299.61 749.74 C307.59 749.82 315.58 749.9 323.57 749.98 C331.55 750.06 339.54 750.18 347.53 750.22 C355.51 750.26 363.5 750.22 371.49 750.22 M371.51 750.19 L439.23 749.42 L504.77 748.11 L537.54 747.02 L539.73 746.47 L504.77 746.36 L439.23 746.58 L384.62 746.8 L342.02 746.91 L384.62 748.33 L453.87 748.55"/>
<circle stroke="#ff0000" cx="133.32" cy="717.15" r="3.6" stroke-width="1.8"/>
<path stroke="#00ff00" d="M545.19 764.28 C546.64 763.7 548.11 763.14 549.56 762.53 C552.91 761.1 556.08 759.26 559.39 757.72 C562.99 756.05 566.74 754.67 570.31 752.92 C572.15 752.01 574.85 751.77 575.77 750.08 C576.11 749.45 576.53 748.46 576.43 747.89 C576.23 746.84 573.83 746.77 572.49 746.36 C568.35 745.11 563.76 745.93 559.39 745.71 M559.39 745.71 L526.62 745.49 L482.92 745.49 L439.23 745.93 L406.46 746.36 M406.46 746.36 C401.36 746.51 396.2 746.06 391.17 746.8 C388.97 747.12 384.3 747.45 384.62 748.11 C384.84 748.58 387.51 749.38 388.99 749.86 C394.49 751.63 400.63 750.57 406.46 750.73 C413.74 750.93 421.03 750.86 428.31 750.73 C436.32 750.59 444.33 750.25 452.34 749.86 C457.44 749.61 462.53 749.28 467.63 748.99"/>
<circle stroke="#00ff00" cx="545.19" cy="764.28" r="3.6" stroke-width="1.8"/>
<path stroke="#000000" d="M305.12 715.95 C303.68 715.24 302.19 713.67 300.8 713.8 C299.56 713.92 298.17 715.2 297.21 716.19 C295.63 717.82 295.01 720.43 294.33 722.66 C293.53 725.34 292.98 728.27 293.14 731.05 C293.25 733.05 293.34 735.39 294.33 737.04 C295.22 738.51 296.89 739.76 298.41 740.63 C300.8 742 303.98 741.94 306.79 742.31 C312.31 743.04 317.98 742.31 323.57 742.31 M323.57 742.31 L347.53 742.07 L371.49 741.83 L373.69 741.56 L417.39 740.68 L461.08 739.81 L504.77 739.37 L548.46 739.15 L598.71 738.94 L548.46 738.28 L504.77 737.63 L461.08 738.28 L439.23 738.94 L417.39 739.37 L395.54 739.15 M395.54 739.15 C390.44 738.57 385.31 738.23 380.25 737.41 C376.59 736.81 372.96 735.98 369.32 735.22 C365.68 734.46 362.04 733.62 358.4 732.82"/>
<circle stroke="#000000" cx="305.12" cy="715.95" r="3.6" stroke-width="1.8"/>
<path stroke="#0000ff" d="M388.55 763.19 C390.15 762.97 391.75 762.75 393.35 762.53 C401.38 761.41 409.37 760.04 417.39 758.82 C424.67 757.71 431.94 756.52 439.23 755.54 C446.5 754.56 453.79 753.72 461.08 752.92 C468.35 752.12 475.64 751.39 482.92 750.73 C490.2 750.08 497.49 749.57 504.77 748.99 C512.05 748.4 519.33 747.78 526.62 747.24 C533.9 746.69 541.18 746.22 548.46 745.71 C555.75 745.2 563.03 744.72 570.31 744.18 C577.59 743.63 584.88 743.09 592.16 742.43 C599.45 741.78 606.73 741.03 614 740.25 C617.28 739.89 620.82 740.41 623.83 739.15 C624.58 738.84 625.91 738.38 626.02 738.06 C626.17 737.61 623.84 737.28 622.74 736.97 C616.47 735.18 609.63 736.68 603.08 736.53 M603.08 736.53 L570.31 736.53 L526.62 736.53 L482.92 736.75 L439.23 737.19 L406.46 738.06 M406.46 738.06 C401.36 738.21 396.26 738.61 391.17 738.5 C388.26 738.44 385.1 739.05 382.43 738.06 C381.06 737.56 379.81 736.61 378.5 735.88"/>
<circle stroke="#0000ff" cx="388.55" cy="763.19" r="3.6" stroke-width="1.8"/>
<path stroke="#00ffff" d="M161.83 682.4 C161.27 681.36 160.66 680.35 160.16 679.29 C159.41 677.74 158.76 676.13 158.24 674.5 C157.74 672.93 156.61 671.11 157.04 669.7 C157.36 668.64 158.48 667.53 159.44 666.83 C161.01 665.67 163.41 665.66 165.43 665.39 C168.57 664.97 171.82 665.44 175.01 665.63 C179.82 665.93 184.62 666.61 189.39 667.31 C195.82 668.25 202.15 669.78 208.56 670.9 C214.93 672.02 221.32 673.1 227.72 674.02 C234.1 674.93 240.49 675.77 246.89 676.41 C253.27 677.05 259.66 677.57 266.06 677.85 C272.44 678.13 278.85 678.25 285.23 678.09 C291.62 677.93 298.02 677.42 304.4 676.89 C310 676.43 315.58 675.82 321.17 675.21 C325.41 674.76 329.64 674.26 333.87 673.78"/>
<circle stroke="#00ffff" cx="161.83" cy="682.4" r="3.6" stroke-width="1.8"/>
<path stroke="#ff00ff" d="M321.17 729.85 C321.17 728.25 321.09 726.65 321.17 725.06 C321.25 723.46 320.97 721.66 321.65 720.27 C322.08 719.38 322.76 718.4 323.57 717.87 C324.53 717.24 325.97 717.07 327.16 717.15 C328.11 717.22 329.05 717.71 330 717.96 C334.3 719.12 338.73 719.77 343.11 720.58 C349.64 721.8 356.18 723.07 362.77 723.86 C370.01 724.73 377.33 725.12 384.62 725.39 C395.52 725.79 406.46 725.21 417.39 724.95 C428.31 724.7 439.23 724.3 450.16 723.86 C461.08 723.42 472.01 722.93 482.92 722.33 C490.21 721.93 497.5 721.57 504.77 721.02 C512.06 720.48 519.38 720.05 526.62 719.06 C531 718.45 535.52 718.2 539.73 716.87 C541.8 716.22 544.75 716.17 545.84 714.47 C546.3 713.75 546.92 712.44 546.72 711.85 C546.43 711.02 544.25 711.2 543 710.97 C539.08 710.26 534.99 710.87 530.99 710.75 C525.89 710.61 520.79 710.37 515.69 710.1 C512.05 709.91 508.37 709.99 504.77 709.44 C502.94 709.16 500.84 709.29 499.31 708.35 C498.5 707.86 497.85 707.04 497.12 706.38"/>
<circle stroke="#ff00ff" cx="321.17" cy="729.85" r="3.6" stroke-width="1.8"/>
<path stroke="#ffff00" d="M392.7 736.75 L396.63 735.88 L439.23 735.22 L482.92 734.79 L526.62 734.35 L553.93 734.13 L526.62 734.57 L514.6 735 L513.51 735.88 L514.6 737.63"/>
<circle stroke="#ffff00" cx="392.7" cy="736.75" r="3.6" stroke-width="1.8"/>
<path stroke="#808080" d="M270.13 520.67 C270.37 522.03 270.64 523.38 270.85 524.74 C272.13 533.02 271.33 541.52 271.33 549.9 C271.33 561.88 270.93 573.87 270.37 585.84 C270 593.83 269.38 601.81 268.94 609.8 C268.5 617.79 268.02 625.77 267.74 633.76 C267.46 641.75 267.16 649.74 267.26 657.72 C267.33 664.11 267.49 670.52 267.98 676.89 C268.57 684.59 269.53 692.3 270.85 699.9 C272.12 707.15 273.32 714.51 275.64 721.47 C277.28 726.37 279.46 731.13 281.63 735.84 C283.5 739.89 285.63 743.83 287.63 747.82 C289.22 751.02 290.37 754.51 292.42 757.41 C293.49 758.93 294.4 761.16 296.01 761.72 C297.04 762.08 298.44 761.93 299.61 761.72 C300.59 761.55 301.52 761.08 302.48 760.76"/>
<circle stroke="#808080" cx="270.13" cy="520.67" r="3.6" stroke-width="1.8"/>
<path stroke="#c0c0c0" d="M102.65 772.98 C104.01 773.38 105.36 773.79 106.72 774.18 C111.1 775.44 115.48 776.68 119.9 777.77 C127.81 779.72 135.84 781.16 143.86 782.57 C151.82 783.96 159.81 785.16 167.82 786.16 C175.78 787.15 183.79 787.88 191.78 788.56 C199.76 789.23 207.75 789.79 215.74 790.23 C223.72 790.67 231.71 790.95 239.7 791.19 C247.69 791.43 255.68 791.63 263.66 791.67 C271.65 791.71 279.64 791.63 287.63 791.43 C295.61 791.23 303.6 790.87 311.59 790.47 C319.58 790.07 327.57 789.63 335.55 789.03 C343.54 788.44 351.54 787.75 359.51 786.88 C365.91 786.18 372.33 785.55 378.68 784.48 C383.09 783.74 387.53 782.97 391.85 781.85 C399.1 779.96 406.15 777.13 413.02 774.11 C418.22 771.82 423.45 769.42 428.31 766.46 C432.1 764.16 435.67 761.48 439.23 758.82 C442.96 756.03 446.6 753.09 450.16 750.08 C453.89 746.91 457.55 743.64 461.08 740.25 C463.31 738.11 465.87 736.2 467.63 733.69 C468.45 732.53 470.21 731.01 469.82 729.98 C469.56 729.31 468.42 728.69 467.63 728.23 C465.77 727.15 463.26 727.5 461.08 727.14 M461.08 727.14 L439.23 726.7 L330 727.14 L279.96 727.94"/>
<circle stroke="#c0c0c0" cx="102.65" cy="772.98" r="3.6" stroke-width="1.8"/>
<path stroke="#800000" d="M237.31 765.55 C238.91 765.23 240.51 764.94 242.1 764.59 C245.32 763.9 248.51 763.06 251.68 762.2 C255.71 761.11 260 760.47 263.66 758.6 C266.68 757.06 269.96 755.22 272.05 752.61 C273.68 750.59 274.94 747.96 275.64 745.43 C276.28 743.14 276.64 740.58 276.36 738.24 C276.12 736.2 275.73 733.64 274.45 732.25 C273.13 730.82 270.5 730.48 268.46 729.85 C265.37 728.9 262.07 728.73 258.87 728.17 C256.08 727.69 253.28 727.22 250.49 726.74 M250.49 726.74 L263.66 730.57 L275.64 732.97 L290.02 735.84 L304.4 738.72 L309.67 740.63 L309.19 744.23"/>
<circle stroke="#800000" cx="237.31" cy="765.55" r="3.6" stroke-width="1.8"/>
</g>
<path d="M78.2 499 H684.3 V835.85 H78.2 Z M199.42 835.85 v-7.1 M199.42 499 v7.1 M320.64 835.85 v-7.1 M320.64 499 v7.1 M441.86 835.85 v-7.1 M441.86 499 v7.1 M563.08 835.85 v-7.1 M563.08 499 v7.1 M78.2 555.14 h7.1 M684.3 555.14 h-7.1 M78.2 611.28 h7.1 M684.3 611.28 h-7.1 M78.2 667.42 h7.1 M684.3 667.42 h-7.1 M78.2 723.57 h7.1 M684.3 723.57 h-7.1 M78.2 779.71 h7.1 M684.3 779.71 h-7.1" fill="none" stroke="#000" stroke-width="1.8" stroke-linejoin="miter"/>
<g stroke="#000" stroke-width="0.35">
<text x="58.48" y="857.85" font-size="17.3" font-family="'Liberation Sans', sans-serif">-0.</text><path d="M85.11 857.85L83.59 857.85L83.59 849.11L80.44 849.11L80.44 848.06C81.96 847.95 83.72 847.64 84.14 845.53L85.11 845.53Z"/><text x="88.29" y="857.85" font-size="17.3" font-family="'Liberation Sans', sans-serif">5</text>
<text x="184.51" y="857.85" font-size="17.3" font-family="'Liberation Sans', sans-serif">-0.</text><path d="M211.14 857.85L209.62 857.85L209.62 849.11L206.47 849.11L206.47 848.06C207.99 847.95 209.76 847.64 210.17 845.53L211.14 845.53Z"/>
<text x="300.92" y="857.85" font-size="17.3" font-family="'Liberation Sans', sans-serif">-0.05</text>
<text x="437.05" y="857.85" font-size="17.3" font-family="'Liberation Sans', sans-serif">0</text>
<text x="546.24" y="857.85" font-size="17.3" font-family="'Liberation Sans', sans-serif">0.05</text>
<text x="672.27" y="857.85" font-size="17.3" font-family="'Liberation Sans', sans-serif">0.</text><path d="M693.14 857.85L691.62 857.85L691.62 849.11L688.47 849.11L688.47 848.06C689.99 847.95 691.75 847.64 692.17 845.53L693.14 845.53Z"/>
<path d="M40.95 505.5L39.42 505.5L39.42 496.76L36.28 496.76L36.28 495.71C37.8 495.6 39.56 495.29 39.98 493.18L40.95 493.18Z"/><text x="44.13" y="505.5" font-size="17.3" font-family="'Liberation Sans', sans-serif">000</text>
<text x="44.13" y="561.64" font-size="17.3" font-family="'Liberation Sans', sans-serif">800</text>
<text x="44.13" y="617.78" font-size="17.3" font-family="'Liberation Sans', sans-serif">600</text>
<text x="44.13" y="673.92" font-size="17.3" font-family="'Liberation Sans', sans-serif">400</text>
<text x="44.13" y="730.07" font-size="17.3" font-family="'Liberation Sans', sans-serif">200</text>
<text x="63.38" y="786.21" font-size="17.3" font-family="'Liberation Sans', sans-serif">0</text>
<text x="38.37" y="842.35" font-size="17.3" font-family="'Liberation Sans', sans-serif">-200</text>
</g>
<g stroke="#000" stroke-width="0.3"><text x="350.2" y="879.9" font-size="19.5" font-family="'Liberation Sans', sans-serif" >&#952;</text><path d="M365.03 888.9L363.82 888.9L363.82 881.93L361.31 881.93L361.31 881.09C362.52 881.01 363.93 880.76 364.26 879.07L365.03 879.07Z"/><text x="373.3" y="879.9" font-size="18.4" font-family="'Liberation Sans', sans-serif" letter-spacing="0.5">[rad]</text></g>
<g transform="translate(20 715.32) rotate(-90)" stroke="#000" stroke-width="0.3"><text x="0" y="0" font-size="18.4" font-family="'Liberation Sans', sans-serif" >k</text><text x="10.6" y="9" font-size="13.8" font-family="'Liberation Sans', sans-serif">2</text><text x="22.7" y="0" font-size="18.4" font-family="'Liberation Sans', sans-serif" letter-spacing="0.3">[Nm/rad]</text></g>
<text x="357" y="932.9" font-family="'Liberation Sans', sans-serif" font-weight="bold" font-size="40" fill="#000">c</text>
</g>
<g id="panel-d">
<g fill="none" stroke-width="1.75" stroke-linecap="round" stroke-linejoin="round">
<path stroke="#ff0000" d="M963.54 718.35 C963.86 719.79 964.12 721.24 964.5 722.66 C965.14 725.1 965.83 727.58 966.89 729.85 C967.87 731.95 969.01 734.07 970.49 735.84 C971.85 737.47 973.5 739.03 975.28 740.16 C977.73 741.7 980.82 742.28 983.66 743.03 C987.56 744.06 991.64 744.43 995.64 744.95 C1003.58 745.98 1011.61 746.14 1019.61 746.62 C1027.59 747.1 1035.58 747.42 1043.57 747.82 C1051.55 748.22 1059.54 748.67 1067.53 749.02 C1079.33 749.53 1091.15 749.86 1102.96 750.22 C1114.94 750.58 1126.92 750.98 1138.9 751.18 C1150.88 751.38 1162.86 751.42 1174.84 751.42 C1186.82 751.42 1198.81 751.42 1210.78 751.18 C1218.77 751.01 1226.76 750.74 1234.74 750.46 C1242.73 750.18 1250.73 749.97 1258.7 749.5 C1264.3 749.17 1269.89 748.7 1275.48 748.3 M1275.48 748.3 L1246.72 747.82 L1150.88 747.1 L1079 747.1 L1019.61 747.1 L923.76 747.58 L887.82 748.3 L867.46 749.5 M867.46 749.5 C870.25 749.9 873.03 750.46 875.84 750.7 C879.81 751.03 883.84 750.92 887.82 750.7 C891.02 750.52 894.23 750.2 897.41 749.74 C898.85 749.53 900.28 749.26 901.72 749.02"/>
<circle stroke="#ff0000" cx="963.54" cy="718.35" r="3.6" stroke-width="1.8"/>
<path stroke="#00ff00" d="M1337.77 765.31 C1339.37 765.23 1340.98 765.22 1342.57 765.07 C1346.61 764.7 1350.6 763.66 1354.55 762.68 C1358.59 761.67 1362.69 760.68 1366.53 759.08 C1368.57 758.24 1370.67 757.41 1372.52 756.21 C1373.52 755.56 1374.67 754.98 1375.39 754.05 C1375.78 753.55 1376.44 752.86 1376.35 752.37 C1376.26 751.91 1375.44 751.48 1374.91 751.18 C1373.89 750.58 1372.52 750.66 1371.32 750.46 C1368.16 749.94 1364.93 749.97 1361.73 749.74 C1355.35 749.29 1348.96 748.85 1342.57 748.54 C1334.59 748.16 1326.59 748.06 1318.61 747.82 C1310.62 747.58 1302.63 747.34 1294.64 747.1 M1294.64 747.1 L1246.72 746.62 L1174.84 746.38 L1079 746.38 L1019.61 746.38 L923.76 746.86 L887.82 747.34 L866.26 747.82 M866.26 747.82 C864.66 748.22 863.04 748.55 861.47 749.02 C859.85 749.5 858.31 750.28 856.67 750.7 C855.34 751.03 852.14 750.85 852.6 751.42 C852.79 751.64 853.54 752.08 854.04 752.26 C855.27 752.69 856.8 752.01 858.11 751.66 C859.52 751.28 860.83 750.54 862.18 749.98"/>
<circle stroke="#00ff00" cx="1337.77" cy="765.31" r="3.6" stroke-width="1.8"/>
<path stroke="#000000" d="M999.48 716.67 C999.96 717.87 1000.55 719.04 1000.92 720.27 C1001.71 722.93 1001.34 725.86 1001.63 728.65 C1001.85 730.65 1001.7 732.79 1002.35 734.64 C1002.96 736.36 1003.91 738.23 1005.23 739.44 C1006.49 740.59 1008.35 741.25 1010.02 741.83 C1012.29 742.63 1014.8 742.79 1017.21 743.03 C1021.96 743.5 1026.79 742.7 1031.59 742.55 C1039.57 742.29 1047.56 742.07 1055.55 741.83 M1055.55 741.83 L1079 741.11 L1150.88 740.63 L1198.8 739.68 L1246.72 738.72 L1282.66 737.28 L1299.44 736.8 L1316.93 737.04 L1294.64 738.24 L1246.72 739.2 L1150.88 739.2 L1079 739.2 L986.06 738.72 L971.68 739.2 L923.76 739.44 L875.84 738.96 M875.84 738.96 C867.86 738.48 859.79 738.64 851.88 737.52 C848.67 737.07 845.4 736.75 842.3 735.84 C840.51 735.32 838.78 734.56 837.03 733.93"/>
<circle stroke="#000000" cx="999.48" cy="716.67" r="3.6" stroke-width="1.8"/>
<path stroke="#0000ff" d="M1258.7 764.12 C1260.3 763.96 1261.9 763.81 1263.5 763.64 C1269.91 762.95 1276.3 762.05 1282.66 761 C1290.7 759.68 1298.64 757.81 1306.63 756.21 C1314.61 754.61 1322.62 753.09 1330.59 751.42 C1335.38 750.41 1340.18 749.39 1344.96 748.3 C1347.36 747.76 1350.06 747.86 1352.15 746.62 C1352.73 746.28 1353.6 745.82 1353.83 745.43 C1354.39 744.46 1351.2 743.32 1349.75 742.55 C1346.89 741.02 1343.4 740.76 1340.17 740.16 C1335.45 739.27 1330.59 739.09 1325.79 738.72 C1319.42 738.22 1313.02 737.94 1306.63 737.76 C1298.64 737.54 1290.65 737.76 1282.66 737.76 M1282.66 737.76 L1246.72 738.24 L1198.8 738.48 L1150.88 738.48 L1079 738.48 L1019.61 738.24 L971.68 738.24 L923.76 738.72 L875.84 738.96 M875.84 738.96 C867.86 738.72 859.82 739.03 851.88 738.24 C847.31 737.78 842.78 736.96 838.22 736.32"/>
<circle stroke="#0000ff" cx="1258.7" cy="764.12" r="3.6" stroke-width="1.8"/>
<path stroke="#00ffff" d="M1008.87 683.48 C1008.77 682.71 1008.77 681.91 1008.58 681.16 C1008.27 679.96 1007.56 678.87 1006.97 677.77 C1006.33 676.61 1005.7 675.4 1004.85 674.39 C1003.9 673.25 1002.45 672.54 1001.47 671.42 C1000.67 670.52 1000.2 669.32 999.35 668.46 C998.72 667.83 998.04 667.15 997.24 666.77 C996.84 666.58 996.39 666.49 995.97 666.35 M995.97 666.35 C995.68 667.05 995.4 667.76 995.12 668.46 C994.68 669.59 994.33 670.74 993.85 671.85 C993.35 673 992.89 674.23 992.16 675.23 C991.46 676.19 990.57 677.06 989.62 677.77 C988.84 678.35 987.99 678.93 987.08 679.25 C986.41 679.49 985.67 679.63 984.96 679.68 C983.7 679.76 982.41 679.33 981.16 679.04 C979.72 678.71 978.34 678.19 976.93 677.77 C975.51 677.35 974.1 676.93 972.69 676.5 C970.86 675.95 969.03 675.37 967.19 674.81"/>
<circle stroke="#00ffff" cx="1008.87" cy="683.48" r="3.6" stroke-width="1.8"/>
<path stroke="#ff00ff" d="M922.12 730.74 C921.59 729.33 921.29 727.77 920.53 726.51 C919.52 724.84 917.85 723.5 916.3 722.28 C914.69 721.02 912.9 719.81 911.01 719.1 C909.03 718.36 906.78 718.13 904.66 718.04 C902.55 717.96 900.35 718.07 898.31 718.57 C896.48 719.02 894.6 719.69 893.02 720.69 C891.86 721.41 890.66 722.26 889.84 723.33 C889.14 724.25 888.78 725.45 888.25 726.51 M889.31 724.07 L887.72 720.16 L885.4 716.46 L884.02 713.49 L887.72 712.22 L884.76 712.01 L882.96 710.95 L881.38 709.58 L881.9 707.78"/>
<circle stroke="#ff00ff" cx="922.12" cy="730.74" r="3.6" stroke-width="1.8"/>
<path stroke="#ffff00" d="M1149.44 737.76 L1146.09 735.84 L1114.94 735.84 L1079 736.32 L1067.53 735.84 L1019.61 736.32 L995.64 737.04 L986.54 738.24"/>
<circle stroke="#ffff00" cx="1149.44" cy="737.76" r="3.6" stroke-width="1.8"/>
<path stroke="#808080" d="M876.32 521.63 C876.56 523.07 876.84 524.5 877.04 525.94 C878.16 533.84 877.32 541.92 877.28 549.9 C877.24 557.89 877.04 565.88 876.8 573.86 C876.56 581.85 876.16 589.84 875.84 597.82 C875.52 605.81 875.28 613.8 874.88 621.78 C874.48 629.77 873.89 637.75 873.45 645.74 C873.2 650.22 872.98 654.69 872.73 659.17 C872.36 665.56 872.2 671.98 871.53 678.34 C870.85 684.76 869.82 691.15 868.65 697.51 C867.62 703.13 866.36 708.71 865.06 714.28 C863.94 719.09 862.78 723.89 861.47 728.65 C860.35 732.67 859.07 736.64 857.87 740.63 C856.67 744.63 855.69 748.7 854.28 752.61 C853.4 755.04 852.53 757.48 851.4 759.8 C850.81 761.02 850.12 762.2 849.49 763.4"/>
<circle stroke="#808080" cx="876.32" cy="521.63" r="3.6" stroke-width="1.8"/>
<path stroke="#c0c0c0" d="M843.02 774.18 C844.37 774.74 845.72 775.34 847.09 775.86 C852.48 777.9 858.25 778.81 863.86 780.17 C871.81 782.09 879.77 784.04 887.82 785.44 C895.75 786.82 903.78 787.64 911.78 788.56 C919.76 789.47 927.74 790.39 935.74 790.95 C943.71 791.51 951.71 791.79 959.7 791.91 C967.69 792.03 975.68 791.91 983.66 791.67 C991.66 791.43 999.67 791.19 1007.63 790.47 C1015.64 789.75 1023.66 788.78 1031.59 787.36 C1037.21 786.35 1042.93 785.49 1048.36 783.76 C1052.44 782.46 1056.74 781.24 1060.34 778.97 C1062.94 777.33 1065.41 775.24 1067.53 772.98 C1069.86 770.5 1071.75 767.53 1073.52 764.59 C1075.36 761.55 1076.89 758.28 1078.31 755.01 C1079.67 751.89 1080.94 748.69 1081.9 745.43 C1082.71 742.68 1084.11 739.8 1083.82 737.04 C1083.65 735.43 1083.29 733.51 1082.38 732.25 C1081.27 730.71 1078.97 729.87 1077.11 729.13 C1074.17 727.98 1070.72 728.33 1067.53 727.94 M1067.53 727.94 L1043.57 727.46 L995.64 727.7 L947.72 727.94 L887.82 727.7"/>
<circle stroke="#c0c0c0" cx="843.02" cy="774.18" r="3.6" stroke-width="1.8"/>
<path stroke="#800000" d="M910.82 766.51 C912.34 766.27 913.87 766.1 915.38 765.79 C918.22 765.22 921.1 764.5 923.76 763.4 C926.72 762.17 930.01 760.85 932.15 758.6 C933.98 756.68 935.91 753.96 936.22 751.42 C936.5 749.14 935.65 746.32 934.55 744.23 C933.27 741.83 930.8 739.86 928.56 738.24 C925.14 735.77 920.67 734.67 916.58 733.45 C911.17 731.83 905.42 731.34 899.8 730.57 C893.45 729.7 887.04 729.09 880.63 728.65 C874.26 728.22 867.86 728.05 861.47 727.94 C855.08 727.82 848.67 727.63 842.3 727.94 C837.5 728.16 832.49 727.78 827.92 729.13 C825.88 729.74 822.92 729.83 821.93 731.53 C821.51 732.25 821.18 733.34 821.21 734.16 C821.28 735.71 823.14 737.03 824.33 738.24 C825.72 739.65 827.95 740.29 829.12 741.83 C830 742.99 830.4 744.55 831.04 745.91"/>
<circle stroke="#800000" cx="910.82" cy="766.51" r="3.6" stroke-width="1.8"/>
</g>
<path d="M800.1 500.2 H1405.9 V836.8 H800.1 Z M886.64 836.8 v-7.1 M886.64 500.2 v7.1 M973.19 836.8 v-7.1 M973.19 500.2 v7.1 M1059.73 836.8 v-7.1 M1059.73 500.2 v7.1 M1146.27 836.8 v-7.1 M1146.27 500.2 v7.1 M1232.81 836.8 v-7.1 M1232.81 500.2 v7.1 M1319.36 836.8 v-7.1 M1319.36 500.2 v7.1 M800.1 556.3 h7.1 M1405.9 556.3 h-7.1 M800.1 612.4 h7.1 M1405.9 612.4 h-7.1 M800.1 668.5 h7.1 M1405.9 668.5 h-7.1 M800.1 724.6 h7.1 M1405.9 724.6 h-7.1 M800.1 780.7 h7.1 M1405.9 780.7 h-7.1" fill="none" stroke="#000" stroke-width="1.8" stroke-linejoin="miter"/>
<g stroke="#000" stroke-width="0.35">
<text x="785.19" y="858.8" font-size="17.3" font-family="'Liberation Sans', sans-serif">-0.2</text>
<text x="881.83" y="858.8" font-size="17.3" font-family="'Liberation Sans', sans-serif">0</text>
<text x="961.16" y="858.8" font-size="17.3" font-family="'Liberation Sans', sans-serif">0.2</text>
<text x="1047.7" y="858.8" font-size="17.3" font-family="'Liberation Sans', sans-serif">0.4</text>
<text x="1134.25" y="858.8" font-size="17.3" font-family="'Liberation Sans', sans-serif">0.6</text>
<text x="1220.79" y="858.8" font-size="17.3" font-family="'Liberation Sans', sans-serif">0.8</text>
<path d="M1320.98 858.8L1319.46 858.8L1319.46 850.06L1316.31 850.06L1316.31 849.01C1317.83 848.9 1319.6 848.59 1320.01 846.48L1320.98 846.48Z"/>
<path d="M1400.31 858.8L1398.79 858.8L1398.79 850.06L1395.64 850.06L1395.64 849.01C1397.16 848.9 1398.93 848.59 1399.34 846.48L1400.31 846.48Z"/><text x="1403.5" y="858.8" font-size="17.3" font-family="'Liberation Sans', sans-serif">.2</text>
<path d="M762.85 506.7L761.32 506.7L761.32 497.96L758.18 497.96L758.18 496.91C759.7 496.8 761.46 496.49 761.88 494.38L762.85 494.38Z"/><text x="766.03" y="506.7" font-size="17.3" font-family="'Liberation Sans', sans-serif">000</text>
<text x="766.03" y="562.8" font-size="17.3" font-family="'Liberation Sans', sans-serif">800</text>
<text x="766.03" y="618.9" font-size="17.3" font-family="'Liberation Sans', sans-serif">600</text>
<text x="766.03" y="675" font-size="17.3" font-family="'Liberation Sans', sans-serif">400</text>
<text x="766.03" y="731.1" font-size="17.3" font-family="'Liberation Sans', sans-serif">200</text>
<text x="785.28" y="787.2" font-size="17.3" font-family="'Liberation Sans', sans-serif">0</text>
<text x="760.27" y="843.3" font-size="17.3" font-family="'Liberation Sans', sans-serif">-200</text>
</g>
<g stroke="#000" stroke-width="0.3"><text x="1072.3" y="880.9" font-size="19.5" font-family="'Liberation Sans', sans-serif" >&#952;</text><text x="1082" y="889.9" font-size="13.8" font-family="'Liberation Sans', sans-serif">2</text><text x="1095.4" y="880.9" font-size="18.4" font-family="'Liberation Sans', sans-serif" letter-spacing="0.5">[rad]</text></g>
<g transform="translate(741.6 716.4) rotate(-90)" stroke="#000" stroke-width="0.3"><text x="0" y="0" font-size="18.4" font-family="'Liberation Sans', sans-serif" >k</text><text x="10.6" y="9" font-size="13.8" font-family="'Liberation Sans', sans-serif">2</text><text x="22.7" y="0" font-size="18.4" font-family="'Liberation Sans', sans-serif" letter-spacing="0.3">[Nm/rad]</text></g>
<text x="1081.2" y="936" font-family="'Liberation Sans', sans-serif" font-weight="bold" font-size="40" fill="#000">d</text>
</g>
</svg>
</body></html>
